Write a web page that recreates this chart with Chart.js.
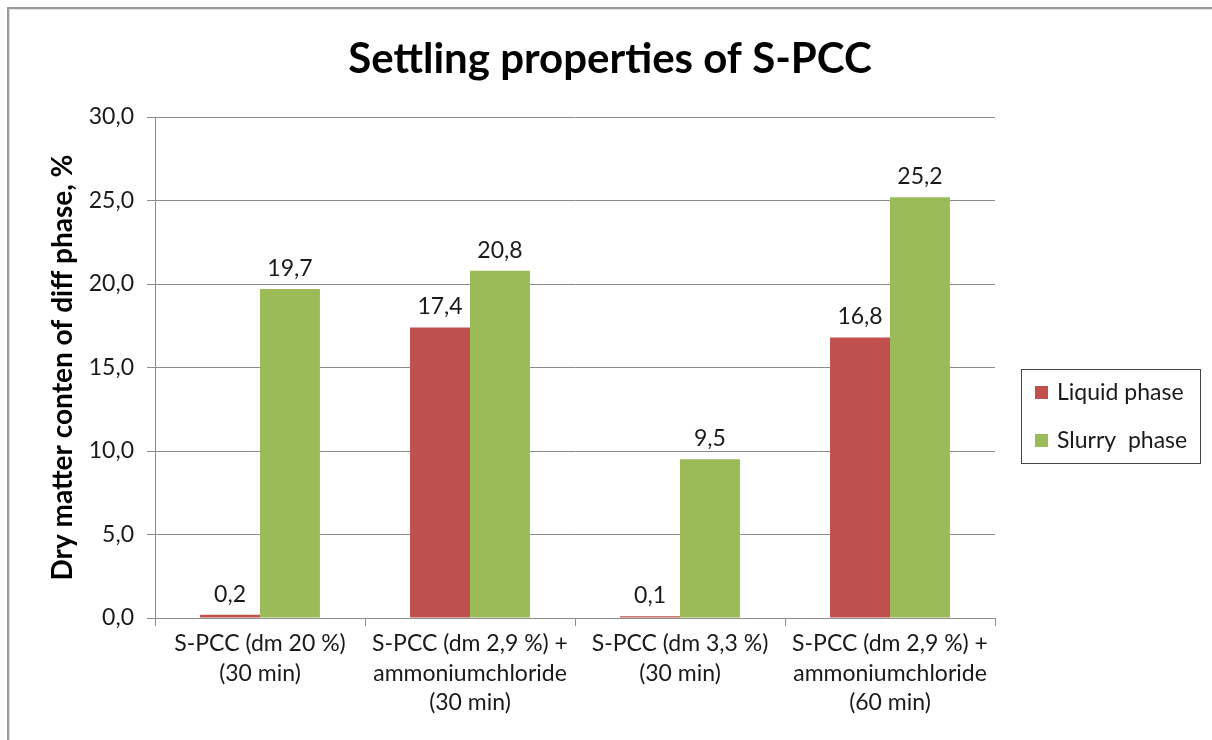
<!DOCTYPE html>
<html>
<head>
<meta charset="utf-8">
<script src="https://cdn.jsdelivr.net/npm/chart.js@4.4.1/dist/chart.umd.min.js"></script>
<style>
  html, body { margin: 0; padding: 0; background: #fff; }
  #chart { display: block; }
</style>
</head>
<body>
<canvas id="chart" width="1212" height="740"></canvas>
<script>
// data
const categories = [
  ['S-PCC (dm 20 %)', '(30 min)'],
  ['S-PCC (dm 2,9 %) +', 'ammoniumchloride', '(30 min)'],
  ['S-PCC (dm 3,3 %)', '(30 min)'],
  ['S-PCC (dm 2,9 %) +', 'ammoniumchloride', '(60 min)']
];
const seriesNames = ['Liquid phase', 'Slurry  phase'];
const liquidPhase = [0.2, 17.4, 0.1, 16.8];
const slurryPhase = [19.7, 20.8, 9.5, 25.2];
const yMin = 0;
const yMax = 30;
const yStep = 5;

const FONT = 'Lato, "Open Sans", sans-serif';
const fmt = v => Number(v).toFixed(1).replace('.', ',');

// white background, frame lines, title and legend box
const decoPlugin = {
  id: 'deco',
  beforeDraw(chart) {
    const ctx = chart.ctx;
    ctx.save();
    ctx.fillStyle = '#fff';
    ctx.fillRect(0, 0, chart.width, chart.height);
    ctx.strokeStyle = '#9a9a9a';
    ctx.lineWidth = 2;
    ctx.beginPath();
    ctx.moveTo(8, chart.height);
    ctx.lineTo(8, 8);
    ctx.lineTo(chart.width, 8);
    ctx.stroke();
    ctx.strokeStyle = '#e2e2e2';
    ctx.lineWidth = 1;
    ctx.beginPath();
    ctx.moveTo(9.5, chart.height);
    ctx.lineTo(9.5, 9.5);
    ctx.lineTo(chart.width, 9.5);
    ctx.stroke();
    ctx.restore();
  },
  afterDraw(chart) {
    const ctx = chart.ctx;
    ctx.save();
    // title
    ctx.fillStyle = '#000';
    ctx.font = 'bold 42px ' + FONT;
    ctx.textAlign = 'center';
    ctx.textBaseline = 'middle';
    ctx.fillText('Settling properties of S-PCC', 610, 59);

    // legend
    ctx.strokeStyle = '#444';
    ctx.lineWidth = 1;
    ctx.strokeRect(1021.5, 369.5, 179, 94);
    ctx.font = '23px ' + FONT;
    ctx.textAlign = 'left';
    chart.data.datasets.forEach((ds, i) => {
      const cy = 393 + i * 48;
      ctx.fillStyle = ds.backgroundColor;
      ctx.fillRect(1035, cy - 7, 13, 13);
      ctx.fillStyle = '#1a1a1a';
      ctx.fillText(ds.label, 1057, cy);
    });
    ctx.restore();
  },
  afterDatasetsDraw(chart) {
    const ctx = chart.ctx;
    ctx.save();
    ctx.font = '23px ' + FONT;
    ctx.fillStyle = '#1a1a1a';
    ctx.textAlign = 'center';
    ctx.textBaseline = 'alphabetic';
    chart.data.datasets.forEach((ds, i) => {
      chart.getDatasetMeta(i).data.forEach((bar, j) => {
        ctx.fillText(fmt(ds.data[j]), bar.x, bar.y - 13);
      });
    });
    ctx.restore();
  }
};

new Chart(document.getElementById('chart'), {
  type: 'bar',
  data: {
    labels: categories,
    datasets: [
      { label: seriesNames[0], data: liquidPhase, backgroundColor: '#C0504D' },
      { label: seriesNames[1], data: slurryPhase, backgroundColor: '#9BBB59' }
    ]
  },
  options: {
    responsive: false,
    animation: false,
    categoryPercentage: 0.571,
    barPercentage: 1.0,
    layout: { padding: { left: 0, top: 117, right: 217, bottom: 0 } },
    plugins: {
      legend: { display: false },
      tooltip: { enabled: false },
      title: { display: false }
    },
    scales: {
      x: {
        grid: {
          offset: true,
          drawOnChartArea: false,
          drawTicks: true,
          tickLength: 8,
          color: '#8c8c8c'
        },
        border: { color: '#8c8c8c' },
        ticks: {
          color: '#1a1a1a',
          font: { family: FONT, size: 23, lineHeight: 1.28 },
          padding: 3,
          maxRotation: 0,
          autoSkip: false
        },
        afterFit(scale) { scale.height = 122; }
      },
      y: {
        min: yMin,
        max: yMax,
        grid: { color: '#8c8c8c', tickLength: 8 },
        border: { color: '#8c8c8c' },
        ticks: {
          stepSize: yStep,
          color: '#1a1a1a',
          font: { family: FONT, size: 23 },
          padding: 13,
          callback: v => fmt(v)
        },
        title: {
          display: true,
          text: 'Dry matter conten of diff phase, %',
          color: '#000',
          font: { family: FONT, size: 28, weight: 'bold' },
          padding: { top: 46 }
        },
        afterFit(scale) { scale.width = 155; }
      }
    }
  },
  plugins: [decoPlugin]
});
</script>
</body>
</html>
